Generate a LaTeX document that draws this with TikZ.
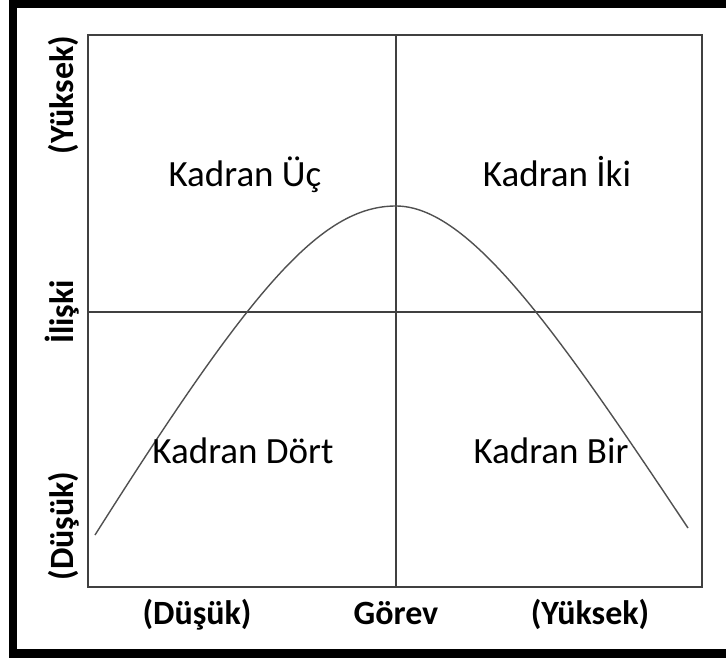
\documentclass[tikz,border=0pt]{standalone}
\usepackage{fontspec}
\setmainfont{Carlito}
\usetikzlibrary{positioning}
\definecolor{cizgi}{RGB}{64,64,64}
\definecolor{egri}{RGB}{80,80,80}

\begin{document}
\begin{tikzpicture}[
  x=1pt, y=-1pt,
  kadran/.style={anchor=base, inner sep=0pt, font=\fontsize{37}{42}\selectfont},
  eksen/.style={anchor=base, inner sep=0pt, font=\bfseries\fontsize{34}{39}\selectfont},
  yeksen/.style={eksen, rotate=90},
  ince/.style={draw=cizgi, line width=1.3pt},
]
  \useasboundingbox (0,0) rectangle (726,660);
  % dis cerceve (sag kenari resmin disinda)
  \draw[line width=8.5pt, black] (13,4) rectangle (745,653.5);

  % kadranlar
  \coordinate (sol ust) at (88,35);
  \coordinate (sag alt) at (702,587);
  \coordinate (orta) at (396,312);
  \draw[ince] (sol ust) rectangle (sag alt);
  \draw[ince] (orta |- sol ust) -- (orta |- sag alt);
  \draw[ince] (orta -| sol ust) -- (orta -| sag alt);

  % egri
  \coordinate (bas) at (95,535);
  \coordinate (tepe) at (396,206);
  \coordinate (son) at (688,528);
  \draw[egri, line width=1.4pt] (bas) .. controls (250,290) and (320,206) .. (tepe)
    .. controls (470,206) and (558,333) .. (son);

  \node[kadran] (k3) at (245,187) {Kadran Üç};
  \node[kadran] (k2) at (557,187) {Kadran İki};
  \node[kadran] (k4) at (243,463) {Kadran Dört};
  \node[kadran] (k1) at (551,463) {Kadran Bir};

  \node[yeksen] (yyuksek) at (73,95) {(Yüksek)};
  \node[yeksen] (yad) at (73,312) {İlişki};
  \node[yeksen] (ydusuk) at (73,526) {(Düşük)};

  \node[eksen] (xdusuk) at (197,624) {(Düşük)};
  \node[eksen] (xad) at (396,624) {Görev};
  \node[eksen] (xyuksek) at (590,624) {(Yüksek)};
\end{tikzpicture}
\end{document}
